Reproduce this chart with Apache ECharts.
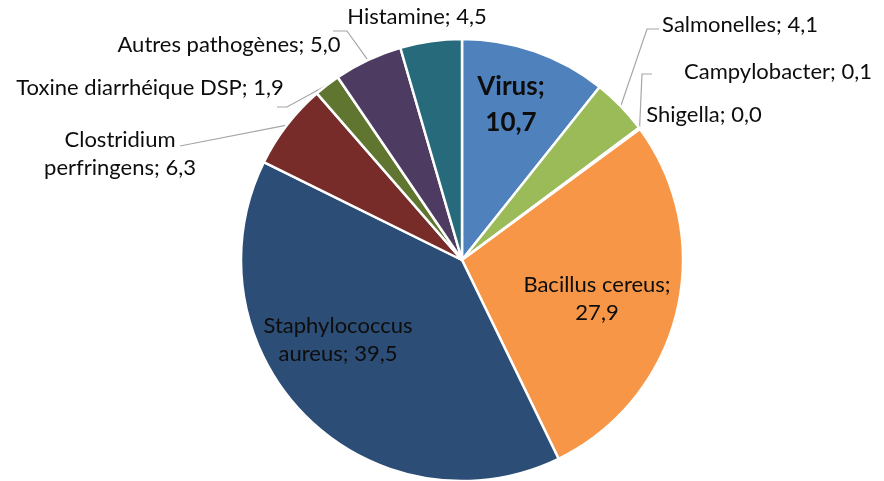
<!DOCTYPE html>
<html>
<head>
<meta charset="utf-8">
<style>
  html, body { margin: 0; padding: 0; background: #fff; }
  #chart { width: 884px; height: 481px; }
</style>
<script src="https://cdn.jsdelivr.net/npm/echarts@6/dist/echarts.min.js"></script>
</head>
<body>
<div id="chart"></div>
<script>
// données (%)
const categories = [
  'Virus', 'Salmonelles', 'Campylobacter', 'Shigella', 'Bacillus cereus',
  'Staphylococcus aureus', 'Clostridium perfringens', 'Toxine diarrhéique DSP',
  'Autres pathogènes', 'Histamine'
]
const values = [10.7, 4.1, 0.1, 0.0, 27.9, 39.5, 6.3, 1.9, 5.0, 4.5]
const labelTexts = [
  'Virus;\n10,7', 'Salmonelles; 4,1', 'Campylobacter; 0,1', 'Shigella; 0,0',
  'Bacillus cereus;\n27,9', 'Staphylococcus\naureus; 39,5', 'Clostridium\nperfringens; 6,3',
  'Toxine diarrhéique DSP; 1,9', 'Autres pathogènes; 5,0', 'Histamine; 4,5'
]

const colors = [
  '#4f81bd', '#9bbb59', '#8064a2', '#4bacc6', '#f79646',
  '#2c4d75', '#772c2a', '#5f7530', '#4d3b62', '#276a7c'
]

// position des étiquettes (centre) et coudes des lignes de rappel
const labelPos = [
  [511, 105], [740, 25], [778, 72], [704, 115], [597, 299],
  [338, 340], [120, 154], [150, 88], [229, 45], [417, 17]
]
const elbows = [
  null, [[647, 29], [659, 29]], [[642, 74], [652, 74]], null, null,
  null, [[180, 146]], [[287, 107], [277, 107]], [[347, 31], [333, 31]], null
]

const chart = echarts.init(document.getElementById('chart'))

const data = categories.map((name, i) => ({
  name,
  value: values[i],
  itemStyle: { color: colors[i] },
  label: i === 0
    ? { fontWeight: 'bold', fontSize: 26, lineHeight: 36 }
    : {},
  labelLine: { show: !!elbows[i] }
}))

chart.setOption({
  animation: false,
  series: [
    {
      type: 'pie',
      center: [462, 260],
      radius: 221,
      startAngle: 90,
      clockwise: true,
      avoidLabelOverlap: false,
      itemStyle: {
        borderColor: '#fff',
        borderWidth: 2.5
      },
      label: {
        show: true,
        position: 'outside',
        fontFamily: 'Lato, "Open Sans", sans-serif',
        fontSize: 22,
        lineHeight: 28,
        color: '#0d0d0d',
        formatter: p => labelTexts[p.dataIndex]
      },
      labelLine: {
        show: true,
        length: 10,
        length2: 10,
        lineStyle: { color: '#a6a6a6', width: 1.2 }
      },
      labelLayout: params => {
        const i = params.dataIndex
        const out = {
          x: labelPos[i][0],
          y: labelPos[i][1],
          align: 'center',
          verticalAlign: 'middle'
        }
        if (elbows[i] && params.labelLinePoints) {
          const start = params.labelLinePoints[0]
          out.labelLinePoints = [start].concat(elbows[i])
        }
        return out
      },
      data
    }
  ]
})
</script>
</body>
</html>
